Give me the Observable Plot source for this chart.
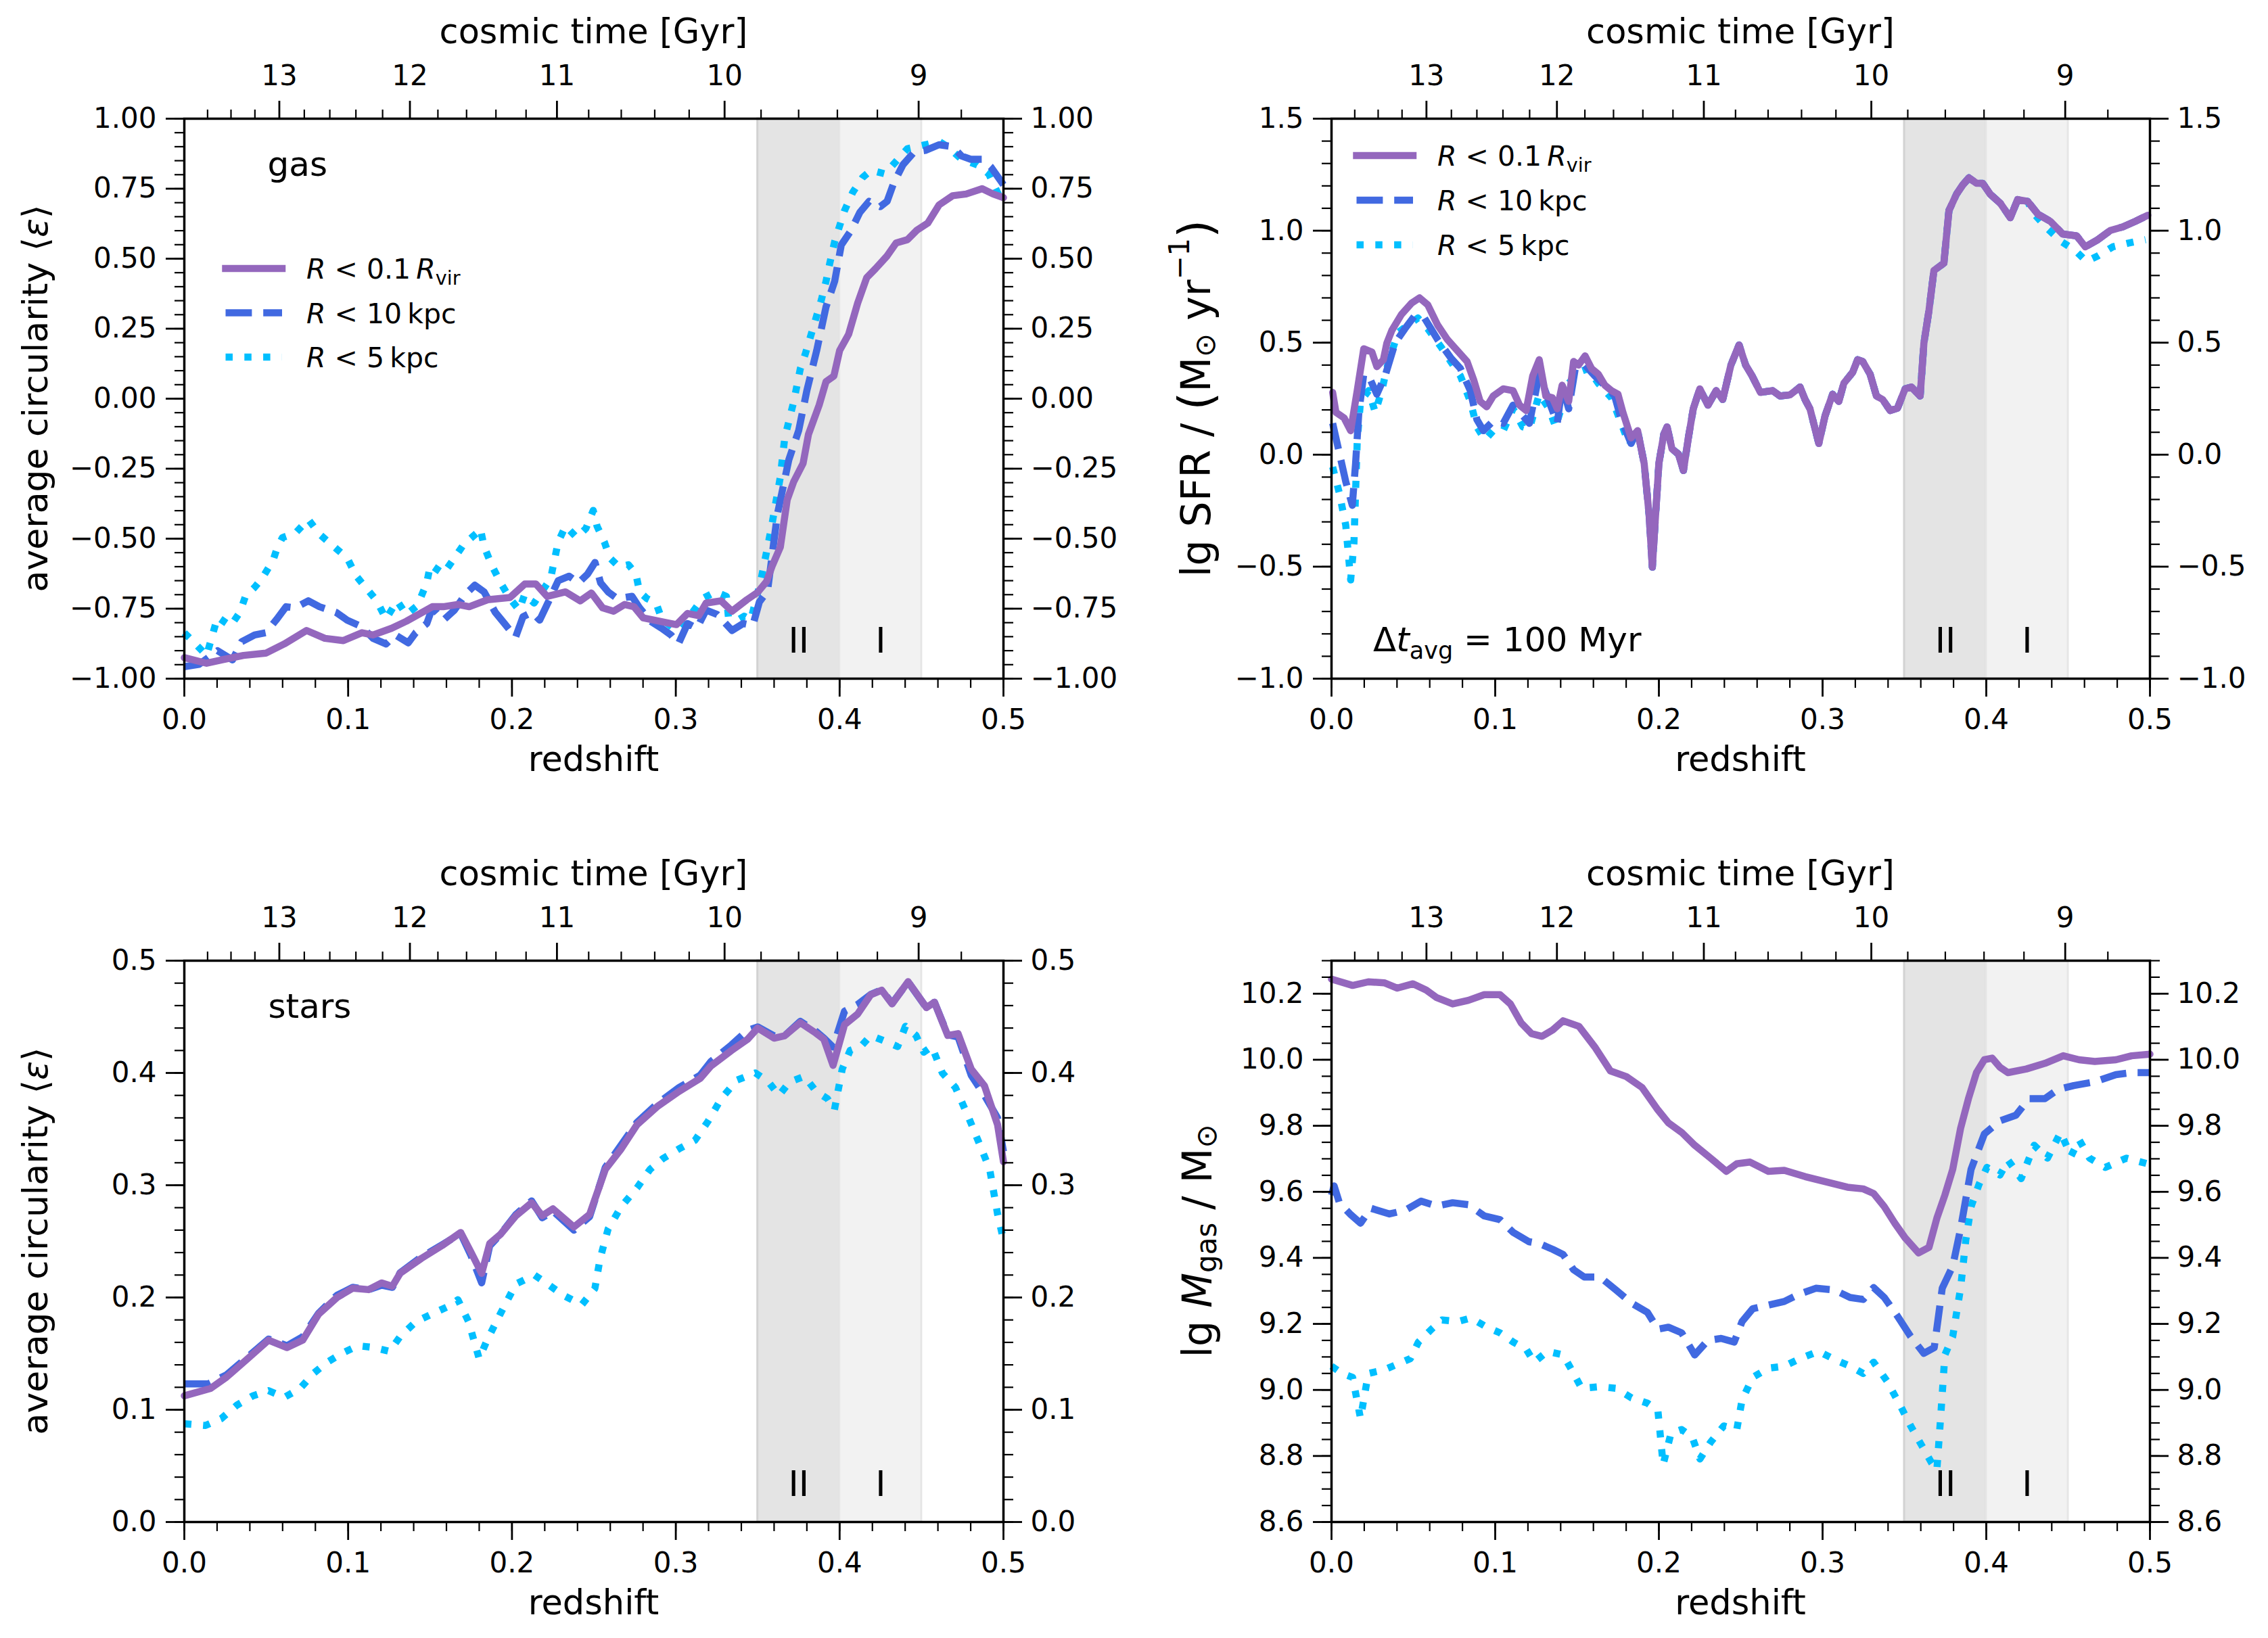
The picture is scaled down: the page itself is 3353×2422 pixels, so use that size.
<!DOCTYPE html>
<html><head><meta charset="utf-8">
<script src="https://cdn.jsdelivr.net/npm/d3@7"></script>
<script src="https://cdn.jsdelivr.net/npm/@observablehq/plot@0.6"></script>
<style>
html,body{margin:0;padding:0;background:#fff;}
#fig{position:relative;width:3353px;height:2422px;background:#fff;font-family:"DejaVu Sans";overflow:hidden;}
#fig > svg{position:absolute;}
</style></head><body><div id="fig"></div>
<script>
// ---------------- DATA (redshift, value) ----------------
const gasVir = [[0,-0.925],[0.0136,-0.945],[0.0226,-0.933],[0.0361,-0.917],[0.0497,-0.909],[0.061,-0.876],[0.0746,-0.828],[0.0858,-0.856],[0.0971,-0.864],[0.1084,-0.836],[0.1152,-0.844],[0.1265,-0.82],[0.1355,-0.795],[0.1514,-0.743],[0.1581,-0.743],[0.1672,-0.735],[0.1739,-0.743],[0.1852,-0.718],[0.1988,-0.71],[0.2078,-0.662],[0.2146,-0.662],[0.2214,-0.706],[0.2327,-0.69],[0.2417,-0.722],[0.2485,-0.694],[0.2553,-0.747],[0.262,-0.759],[0.2688,-0.735],[0.2745,-0.743],[0.2801,-0.783],[0.2937,-0.799],[0.3004,-0.807],[0.3072,-0.767],[0.314,-0.775],[0.3185,-0.73],[0.3276,-0.722],[0.3343,-0.759],[0.3434,-0.718],[0.3499,-0.692],[0.3554,-0.653],[0.359,-0.595],[0.3638,-0.53],[0.368,-0.361],[0.372,-0.296],[0.3777,-0.231],[0.381,-0.127],[0.3875,-0.023],[0.3917,0.061],[0.3965,0.081],[0.40,0.172],[0.4055,0.23],[0.411,0.341],[0.4165,0.432],[0.422,0.465],[0.429,0.51],[0.4345,0.556],[0.4414,0.568],[0.447,0.601],[0.4538,0.627],[0.4607,0.692],[0.469,0.725],[0.4772,0.731],[0.487,0.75],[0.4937,0.731],[0.5,0.718]];
const gas10 = [[0,-0.957],[0.009,-0.949],[0.0203,-0.9],[0.0294,-0.933],[0.035,-0.868],[0.0429,-0.844],[0.0497,-0.836],[0.0565,-0.787],[0.0621,-0.743],[0.0678,-0.747],[0.0757,-0.722],[0.0825,-0.743],[0.0926,-0.763],[0.0994,-0.791],[0.1084,-0.815],[0.1152,-0.856],[0.1231,-0.876],[0.1288,-0.844],[0.1367,-0.872],[0.1412,-0.836],[0.148,-0.803],[0.1514,-0.747],[0.1581,-0.791],[0.1649,-0.755],[0.1717,-0.698],[0.1773,-0.666],[0.183,-0.69],[0.1898,-0.763],[0.1954,-0.803],[0.2022,-0.852],[0.2067,-0.779],[0.2123,-0.763],[0.2169,-0.791],[0.2225,-0.722],[0.2282,-0.65],[0.2349,-0.634],[0.2406,-0.658],[0.2462,-0.626],[0.2507,-0.585],[0.2541,-0.658],[0.2587,-0.69],[0.2643,-0.714],[0.2733,-0.706],[0.2779,-0.747],[0.2846,-0.795],[0.2914,-0.82],[0.2971,-0.844],[0.3016,-0.876],[0.3072,-0.803],[0.3129,-0.82],[0.3185,-0.755],[0.3253,-0.771],[0.3343,-0.828],[0.3411,-0.803],[0.347,-0.81],[0.351,-0.726],[0.356,-0.687],[0.362,-0.413],[0.369,-0.218],[0.375,-0.114],[0.38,0.029],[0.386,0.172],[0.3917,0.328],[0.397,0.42],[0.401,0.549],[0.407,0.601],[0.4124,0.666],[0.418,0.705],[0.4248,0.686],[0.429,0.705],[0.433,0.77],[0.4386,0.835],[0.4455,0.881],[0.4524,0.887],[0.4607,0.907],[0.469,0.9],[0.4744,0.867],[0.48,0.855],[0.487,0.855],[0.4923,0.828],[0.5,0.764]];
const gas5 = [[0,-0.836],[0.0068,-0.876],[0.0136,-0.917],[0.0203,-0.78],[0.0282,-0.812],[0.0339,-0.763],[0.0373,-0.706],[0.0429,-0.674],[0.0474,-0.642],[0.0542,-0.577],[0.0565,-0.536],[0.0599,-0.496],[0.0678,-0.48],[0.0757,-0.431],[0.0825,-0.484],[0.0904,-0.524],[0.0994,-0.569],[0.105,-0.634],[0.1107,-0.674],[0.1175,-0.722],[0.1231,-0.787],[0.1299,-0.722],[0.1355,-0.771],[0.1423,-0.739],[0.148,-0.658],[0.1502,-0.593],[0.1581,-0.625],[0.1649,-0.569],[0.1706,-0.52],[0.1785,-0.48],[0.1807,-0.464],[0.183,-0.528],[0.1875,-0.593],[0.1931,-0.658],[0.1988,-0.714],[0.2044,-0.755],[0.2078,-0.698],[0.2135,-0.73],[0.2236,-0.642],[0.2259,-0.577],[0.2282,-0.512],[0.2327,-0.455],[0.2395,-0.496],[0.2451,-0.464],[0.2496,-0.399],[0.2519,-0.455],[0.2564,-0.512],[0.2598,-0.569],[0.2654,-0.601],[0.2711,-0.593],[0.2756,-0.625],[0.2779,-0.69],[0.2824,-0.714],[0.288,-0.73],[0.2914,-0.787],[0.3004,-0.828],[0.3072,-0.787],[0.3163,-0.714],[0.3242,-0.69],[0.3309,-0.706],[0.3321,-0.779],[0.3389,-0.787],[0.3417,-0.777],[0.3458,-0.79],[0.352,-0.647],[0.3582,-0.465],[0.3637,-0.283],[0.3665,-0.14],[0.372,-0.01],[0.376,0.107],[0.379,0.159],[0.383,0.237],[0.3889,0.354],[0.3917,0.419],[0.394,0.484],[0.397,0.562],[0.403,0.672],[0.408,0.737],[0.414,0.79],[0.4193,0.816],[0.4276,0.803],[0.4345,0.848],[0.4414,0.893],[0.4524,0.907],[0.4607,0.919],[0.466,0.9],[0.4744,0.855],[0.484,0.835],[0.491,0.803],[0.5,0.692]];

const sfrVir = [[0.0007,0.278],[0.0027,0.189],[0.0077,0.164],[0.0117,0.107],[0.0157,0.286],[0.0197,0.473],[0.0247,0.458],[0.0277,0.393],[0.0317,0.424],[0.0338,0.498],[0.0368,0.554],[0.0428,0.627],[0.0488,0.676],[0.0538,0.70],[0.0588,0.669],[0.0648,0.579],[0.0708,0.514],[0.0768,0.465],[0.0828,0.416],[0.0868,0.335],[0.0908,0.238],[0.0948,0.214],[0.0988,0.262],[0.1049,0.294],[0.1109,0.286],[0.1149,0.221],[0.1189,0.197],[0.1229,0.351],[0.1269,0.424],[0.1309,0.262],[0.1349,0.254],[0.1379,0.205],[0.1409,0.31],[0.1449,0.238],[0.1479,0.416],[0.1509,0.40],[0.1549,0.441],[0.1589,0.384],[0.1629,0.36],[0.167,0.31],[0.171,0.286],[0.175,0.27],[0.178,0.189],[0.183,0.075],[0.187,0.107],[0.191,-0.039],[0.194,-0.266],[0.196,-0.502],[0.198,-0.266],[0.200,-0.039],[0.203,0.091],[0.205,0.124],[0.208,0.026],[0.212,0.002],[0.215,-0.071],[0.218,0.075],[0.221,0.205],[0.225,0.294],[0.230,0.221],[0.235,0.286],[0.239,0.246],[0.244,0.40],[0.249,0.49],[0.253,0.40],[0.257,0.351],[0.262,0.278],[0.2694,0.286],[0.274,0.262],[0.2801,0.267],[0.2862,0.302],[0.2893,0.246],[0.2923,0.205],[0.2977,0.05],[0.3015,0.173],[0.3061,0.27],[0.3099,0.238],[0.313,0.319],[0.3184,0.368],[0.3214,0.424],[0.3245,0.416],[0.329,0.36],[0.3329,0.262],[0.3367,0.246],[0.3413,0.197],[0.3458,0.208],[0.3504,0.294],[0.3543,0.302],[0.3596,0.262],[0.3619,0.498],[0.365,0.644],[0.368,0.822],[0.3741,0.855],[0.3772,1.09],[0.3818,1.163],[0.3856,1.204],[0.3894,1.236],[0.394,1.212],[0.3978,1.212],[0.4024,1.163],[0.4085,1.123],[0.4147,1.058],[0.4192,1.139],[0.4253,1.131],[0.4315,1.074],[0.4391,1.042],[0.4467,0.985],[0.4552,0.977],[0.4605,0.928],[0.4682,0.96],[0.4758,1.001],[0.4834,1.017],[0.4911,1.042],[0.4987,1.069]];
const sfr10Early = [[0.0007,0.14],[0.0047,0.01],[0.0087,-0.12],[0.0127,-0.226],[0.0147,-0.04],[0.0167,0.189],[0.0197,0.36],[0.0237,0.335],[0.0277,0.27],[0.0327,0.351],[0.0388,0.498],[0.0448,0.562],[0.0508,0.62],[0.0568,0.61],[0.0648,0.514],[0.0728,0.433],[0.0788,0.384],[0.0848,0.286],[0.0888,0.157],[0.0928,0.107],[0.0988,0.15],[0.1049,0.14],[0.1109,0.221],[0.1169,0.173],[0.1209,0.14],[0.1269,0.36],[0.1329,0.238],[0.1379,0.14],[0.1409,0.31],[0.1449,0.205],[0.1489,0.384],[0.1549,0.40],[0.1609,0.351],[0.169,0.294],[0.173,0.262],[0.177,0.157],[0.183,0.05]];
const sfr5Early = [[0.0007,-0.055],[0.0047,-0.169],[0.0087,-0.315],[0.0117,-0.559],[0.0137,-0.396],[0.0157,0.058],[0.0177,0.238],[0.0227,0.286],[0.0267,0.189],[0.0307,0.286],[0.0348,0.416],[0.0408,0.546],[0.0468,0.579],[0.0528,0.61],[0.0588,0.562],[0.0668,0.482],[0.0728,0.416],[0.0788,0.351],[0.0848,0.238],[0.0888,0.124],[0.0938,0.066],[0.0988,0.107],[0.1049,0.107],[0.1109,0.205],[0.1169,0.124],[0.1209,0.115],[0.1269,0.27],[0.1329,0.205],[0.1369,0.124],[0.1409,0.221],[0.1449,0.319],[0.1509,0.368],[0.1569,0.384],[0.1629,0.319],[0.171,0.254],[0.177,0.14],[0.182,0.043]];
const sfr5Late = [[0.4283,1.082],[0.4374,1.009],[0.4458,0.952],[0.4543,0.912],[0.4612,0.863],[0.4681,0.887],[0.4773,0.928],[0.4865,0.944],[0.4973,0.96]];
// where the R<10 kpc and R<5 kpc curves lie on top of the R<0.1Rvir curve
const sfr10 = sfr10Early.concat(sfrVir.filter(d => d[0] >= 0.185));
const sfr5 = sfr5Early.concat(sfrVir.filter(d => d[0] >= 0.185 && d[0] <= 0.4253), sfr5Late);

const starVir = [[0,0.1124],[0.016,0.119],[0.0257,0.129],[0.0386,0.1454],[0.0514,0.162],[0.0627,0.1554],[0.0723,0.162],[0.082,0.1852],[0.0932,0.20],[0.1028,0.2083],[0.1125,0.207],[0.1205,0.213],[0.127,0.21],[0.1317,0.2215],[0.1446,0.2347],[0.1574,0.2463],[0.1687,0.2579],[0.1751,0.24],[0.1815,0.2215],[0.1864,0.248],[0.1928,0.256],[0.2024,0.2728],[0.212,0.2844],[0.2185,0.2728],[0.225,0.279],[0.2378,0.2628],[0.2474,0.274],[0.257,0.3142],[0.2667,0.3324],[0.2763,0.3539],[0.289,0.3704],[0.302,0.3836],[0.3149,0.3952],[0.3213,0.406],[0.334,0.42],[0.3438,0.43],[0.35,0.44],[0.36,0.431],[0.3663,0.433],[0.376,0.4448],[0.3856,0.4354],[0.3904,0.43],[0.396,0.4068],[0.403,0.443],[0.411,0.4525],[0.419,0.4697],[0.4257,0.4737],[0.432,0.4615],[0.4418,0.4813],[0.453,0.4582],[0.4579,0.463],[0.466,0.4334],[0.4723,0.435],[0.4803,0.4035],[0.4884,0.3886],[0.4964,0.3539],[0.5,0.321]];
const star10 = [[0,0.123],[0.0145,0.123],[0.0257,0.131],[0.0386,0.147],[0.0514,0.163],[0.0627,0.157],[0.0723,0.165],[0.082,0.186],[0.0932,0.202],[0.1028,0.209],[0.1125,0.207],[0.1205,0.211],[0.127,0.209],[0.1317,0.222],[0.1446,0.236],[0.1574,0.247],[0.1687,0.257],[0.1751,0.237],[0.1815,0.213],[0.1864,0.246],[0.1928,0.256],[0.2024,0.274],[0.212,0.286],[0.2185,0.271],[0.225,0.277],[0.2378,0.26],[0.2474,0.272],[0.257,0.316],[0.2667,0.336],[0.2763,0.356],[0.289,0.373],[0.302,0.387],[0.3149,0.398],[0.3213,0.41],[0.334,0.425],[0.3438,0.438],[0.35,0.441],[0.36,0.433],[0.3663,0.433],[0.376,0.446],[0.3856,0.437],[0.3904,0.431],[0.396,0.423],[0.403,0.455],[0.411,0.461],[0.419,0.47],[0.4257,0.474],[0.432,0.462],[0.4418,0.481],[0.453,0.458],[0.4579,0.463],[0.466,0.434],[0.4723,0.432],[0.4803,0.398],[0.4884,0.38],[0.4964,0.36],[0.5,0.33]];
const star5 = [[0,0.0875],[0.0129,0.086],[0.0225,0.092],[0.032,0.104],[0.0418,0.1124],[0.0514,0.117],[0.061,0.111],[0.0707,0.119],[0.0787,0.1322],[0.0868,0.142],[0.0964,0.1504],[0.106,0.157],[0.1157,0.1554],[0.1253,0.152],[0.1317,0.1652],[0.1414,0.1785],[0.151,0.1852],[0.1607,0.1918],[0.167,0.198],[0.1735,0.1785],[0.18,0.1454],[0.1848,0.162],[0.1928,0.1852],[0.2024,0.212],[0.2137,0.22],[0.2217,0.212],[0.2313,0.202],[0.2426,0.1935],[0.2506,0.208],[0.2538,0.2347],[0.2587,0.261],[0.2667,0.281],[0.2763,0.2976],[0.2843,0.3142],[0.2924,0.324],[0.302,0.3324],[0.3117,0.34],[0.3197,0.357],[0.3277,0.377],[0.3373,0.3936],[0.3486,0.40],[0.3566,0.392],[0.363,0.38],[0.3695,0.392],[0.3785,0.397],[0.3856,0.3836],[0.3926,0.377],[0.3968,0.367],[0.4016,0.4035],[0.4064,0.42],[0.4129,0.4235],[0.419,0.4334],[0.4273,0.4285],[0.4354,0.4235],[0.4402,0.4416],[0.4466,0.4334],[0.4514,0.4185],[0.4563,0.4235],[0.4627,0.40],[0.4707,0.387],[0.4787,0.3605],[0.4852,0.3373],[0.4916,0.3142],[0.4964,0.2744],[0.5,0.2513]];

const mgasVir = [[0,10.244],[0.0129,10.225],[0.0225,10.236],[0.0322,10.233],[0.0402,10.217],[0.0498,10.23],[0.0579,10.211],[0.0643,10.188],[0.074,10.169],[0.0836,10.18],[0.0933,10.197],[0.1029,10.197],[0.1093,10.169],[0.1158,10.112],[0.1222,10.079],[0.1286,10.071],[0.1351,10.09],[0.1415,10.118],[0.1512,10.101],[0.1608,10.039],[0.1704,9.966],[0.1801,9.949],[0.1897,9.916],[0.1994,9.848],[0.2058,9.809],[0.2139,9.78],[0.2219,9.741],[0.2316,9.702],[0.2412,9.662],[0.2476,9.685],[0.2557,9.69],[0.2669,9.662],[0.2766,9.665],[0.2894,9.646],[0.3023,9.63],[0.3152,9.614],[0.3248,9.609],[0.3312,9.595],[0.3377,9.555],[0.3441,9.505],[0.3505,9.46],[0.3586,9.415],[0.365,9.432],[0.3698,9.52],[0.3747,9.59],[0.3795,9.668],[0.3843,9.792],[0.3891,9.882],[0.394,9.961],[0.3988,10.0],[0.4036,10.005],[0.4084,9.977],[0.4133,9.961],[0.4245,9.972],[0.4358,9.989],[0.447,10.012],[0.4567,10.0],[0.4663,9.995],[0.4792,10.0],[0.4888,10.012],[0.5,10.017]];
const mgas10 = [[0,9.59],[0.0016,9.618],[0.0048,9.567],[0.0113,9.533],[0.0177,9.505],[0.0241,9.55],[0.0354,9.533],[0.045,9.544],[0.0547,9.572],[0.0643,9.557],[0.074,9.567],[0.0836,9.561],[0.0933,9.527],[0.1029,9.516],[0.111,9.477],[0.1206,9.449],[0.127,9.443],[0.1351,9.426],[0.1415,9.41],[0.1479,9.364],[0.1544,9.342],[0.164,9.342],[0.1737,9.303],[0.1833,9.263],[0.193,9.235],[0.1994,9.184],[0.2058,9.19],[0.2139,9.173],[0.2219,9.106],[0.2299,9.15],[0.238,9.156],[0.246,9.145],[0.2508,9.207],[0.2573,9.246],[0.2669,9.257],[0.2766,9.268],[0.2862,9.291],[0.2959,9.308],[0.3071,9.303],[0.3168,9.28],[0.3248,9.274],[0.3312,9.31],[0.3377,9.28],[0.3457,9.224],[0.3538,9.162],[0.3618,9.111],[0.3682,9.128],[0.3731,9.308],[0.3795,9.375],[0.3843,9.488],[0.3875,9.578],[0.3907,9.668],[0.3988,9.775],[0.4084,9.815],[0.4181,9.832],[0.4261,9.882],[0.4358,9.882],[0.4438,9.91],[0.4535,9.922],[0.4663,9.933],[0.4792,9.955],[0.4888,9.961],[0.5,9.961]];
const mgas5 = [[0,9.072],[0.0064,9.05],[0.0129,9.038],[0.0177,8.914],[0.0225,9.05],[0.0322,9.061],[0.0402,9.078],[0.0482,9.095],[0.0531,9.145],[0.0611,9.184],[0.0675,9.212],[0.0772,9.207],[0.0852,9.218],[0.0949,9.19],[0.1029,9.173],[0.111,9.145],[0.119,9.123],[0.1238,9.084],[0.1319,9.117],[0.1415,9.106],[0.1479,9.05],[0.1528,9.005],[0.164,9.01],[0.1737,9.005],[0.1833,8.976],[0.193,8.96],[0.1994,8.937],[0.2026,8.774],[0.2074,8.869],[0.2139,8.88],[0.2203,8.858],[0.2251,8.791],[0.2315,8.841],[0.2396,8.891],[0.2476,8.88],[0.2508,8.97],[0.2573,9.038],[0.2669,9.066],[0.2766,9.072],[0.2862,9.095],[0.2975,9.117],[0.3087,9.089],[0.3168,9.072],[0.3248,9.05],[0.3312,9.084],[0.3393,9.027],[0.3473,8.954],[0.3538,8.891],[0.3602,8.835],[0.3666,8.779],[0.3698,8.757],[0.3724,8.937],[0.3747,9.106],[0.3795,9.162],[0.3843,9.308],[0.3875,9.454],[0.3907,9.555],[0.3956,9.623],[0.4004,9.674],[0.4084,9.651],[0.4133,9.696],[0.4213,9.64],[0.4293,9.741],[0.4374,9.702],[0.4454,9.78],[0.4518,9.708],[0.4567,9.758],[0.4631,9.702],[0.4727,9.674],[0.4856,9.702],[0.4985,9.685]];

// shaded phases and their labels
const bandDark = [{z1: 0.35, z2: 0.40}];
const bandLight = [{z1: 0.40, z2: 0.45}];
const phaseLabels = [{z: 0.375, label: "II"}, {z: 0.425, label: "I"}];

// axes ticks
const redshiftMajor = [0, 0.1, 0.2, 0.3, 0.4, 0.5];
const cosmicMajor = [13, 12, 11, 10, 9];
const cosmicMinor = [13.6, 13.4, 13.2, 12.8, 12.6, 12.4, 12.2, 11.8, 11.6, 11.4, 11.2, 10.8, 10.6, 10.4, 10.2, 9.8, 9.6, 9.4, 9.2, 8.8, 8.6];
const circGasTicks = [-1, -0.75, -0.5, -0.25, 0, 0.25, 0.5, 0.75, 1];
const sfrTicks = [-1, -0.5, 0, 0.5, 1, 1.5];
const circStarTicks = [0, 0.1, 0.2, 0.3, 0.4, 0.5];
const mgasTicks = [8.6, 8.8, 9.0, 9.2, 9.4, 9.6, 9.8, 10.0, 10.2];

// colours
const cVir = "#9467bd", c10 = "#4169e1", c5 = "#00bfff";

// ---------------- cosmology for top axis (flat LCDM, Planck 2015) ----------------
const H0 = 67.74, Om = 0.3089, OL = 1 - Om;
const tPref = 2 / (3 * Math.sqrt(OL)) * 977.8 / H0;
const zOfT = t => Math.pow(Math.sinh(t / tPref) / Math.sqrt(OL / Om), -2 / 3) - 1;
const topMajor = cosmicMajor.map(zOfT);
const topMinor = cosmicMinor.map(zOfT).filter(z => z >= 0 && z <= 0.5);
const topLabel = new Map(cosmicMajor.map(t => [zOfT(t), String(t)]));

const fig = document.getElementById("fig");
const FONT = "DejaVu Sans";
const LW = 10.5;
const DASH = "38.9,16.8", DOT = "10.5,17.3";

function panel({left, top, mL, mR, mT, mB, fw, fh, series, yDomain, yMajor, yMinor, yFmt, extra = []}) {
  const lines = [
    Plot.line(series[2], {x: d => d[0], y: d => d[1], stroke: c5, strokeWidth: LW, strokeDasharray: DOT, strokeLinecap: "butt", strokeLinejoin: "round"}),
    Plot.line(series[1], {x: d => d[0], y: d => d[1], stroke: c10, strokeWidth: LW, strokeDasharray: DASH, strokeLinecap: "butt", strokeLinejoin: "round"}),
    Plot.line(series[0], {x: d => d[0], y: d => d[1], stroke: cVir, strokeWidth: LW, strokeLinejoin: "round"})
  ];
  const common = {fontSize: 42, label: null};
  const svg = Plot.plot({
    width: mL + fw + mR, height: mT + fh + mB,
    marginLeft: mL, marginRight: mR, marginTop: mT, marginBottom: mB,
    style: {fontFamily: FONT, fontSize: "42px", background: "transparent", overflow: "visible", color: "black", maxWidth: "none"},
    x: {domain: [0, 0.5], label: null},
    y: {domain: yDomain, label: null},
    marks: [
      Plot.rect(bandDark, {x1: "z1", x2: "z2", y1: yDomain[0], y2: yDomain[1], fill: "#e4e4e4", stroke: "#d2d2d2", strokeWidth: 3}),
      Plot.rect(bandLight, {x1: "z1", x2: "z2", y1: yDomain[0], y2: yDomain[1], fill: "#f2f2f2", stroke: "#e6e6e6", strokeWidth: 3}),
      ...lines,
      Plot.text(phaseLabels, {x: "z", text: "label", frameAnchor: "bottom", dy: -39, lineAnchor: "bottom", fontSize: 52, fill: "black"}),
      ...extra,
      // bottom redshift axis
      Plot.axisX({...common, anchor: "bottom", ticks: redshiftMajor, tickFormat: d3.format(".1f"), tickSize: 27, tickPadding: 18, strokeWidth: 2.8}),
      Plot.axisX({...common, anchor: "bottom", ticks: d3.range(0, 0.5001, 0.02), tickFormat: () => "", tickSize: 14, strokeWidth: 2.2}),
      // top cosmic time axis
      Plot.axisX({...common, anchor: "top", ticks: topMajor, tickFormat: d => topLabel.get(d), tickSize: 27, tickPadding: 23, strokeWidth: 2.8}),
      Plot.axisX({...common, anchor: "top", ticks: topMinor, tickFormat: () => "", tickSize: 14, strokeWidth: 2.2}),
      // left and right y axes
      Plot.axisY({...common, anchor: "left", ticks: yMajor, tickFormat: yFmt, tickSize: 27, tickPadding: 14, strokeWidth: 2.8}),
      Plot.axisY({...common, anchor: "left", ticks: yMinor, tickFormat: () => "", tickSize: 14, strokeWidth: 2.2}),
      Plot.axisY({...common, anchor: "right", ticks: yMajor, tickFormat: yFmt, tickSize: 27, tickPadding: 13, strokeWidth: 2.8}),
      Plot.axisY({...common, anchor: "right", ticks: yMinor, tickFormat: () => "", tickSize: 14, strokeWidth: 2.2}),
      Plot.frame({stroke: "black", strokeWidth: 3.5})
    ]
  });
  svg.style.left = left + "px";
  svg.style.top = top + "px";
  fig.appendChild(svg);
}

const TOP = {top: 0, mT: 175, fh: 828, mB: 180};
const BOT = {top: 1240, mT: 180, fh: 830, mB: 172};
const LEFT = {left: 0, mL: 272, fw: 1211, mR: 230};
const RIGHT = {left: 1700, mL: 268, fw: 1210, mR: 175};

panel({...LEFT, ...TOP, series: [gasVir, gas10, gas5], yDomain: [-1, 1], yMajor: circGasTicks,
  yMinor: d3.range(-1, 1.0001, 0.05), yFmt: d3.format(".2f"),
  extra: [Plot.text(["gas"], {text: d => d, frameAnchor: "top-left", dx: 123, dy: 84, textAnchor: "start", lineAnchor: "bottom", fontSize: 50, fill: "black"})]});
panel({...RIGHT, ...TOP, series: [sfrVir, sfr10, sfr5], yDomain: [-1, 1.5], yMajor: sfrTicks,
  yMinor: d3.range(-1, 1.5001, 0.1), yFmt: d3.format(".1f")});
panel({...LEFT, ...BOT, series: [starVir, star10, star5], yDomain: [0, 0.5], yMajor: circStarTicks,
  yMinor: d3.range(0, 0.5001, 0.02), yFmt: d3.format(".1f"),
  extra: [Plot.text(["stars"], {text: d => d, frameAnchor: "top-left", dx: 124, dy: 84, textAnchor: "start", lineAnchor: "bottom", fontSize: 50, fill: "black"})]});
panel({...RIGHT, ...BOT, series: [mgasVir, mgas10, mgas5], yDomain: [8.6, 10.3], yMajor: mgasTicks,
  yMinor: d3.range(8.6, 10.3001, 0.05), yFmt: d3.format(".1f")});

// ---------------- overlay: axis titles, math labels, legends ----------------
const ov = d3.select(fig).append("svg").attr("width", 3353).attr("height", 2422)
  .style("left", "0px").style("top", "0px").style("pointer-events", "none");

function mtext(x, y, fs, parts, {anchor = "start", rotate = 0, baseline = null} = {}) {
  const t = ov.append("text").attr("transform", `translate(${x},${y}) rotate(${rotate})`)
    .attr("font-size", fs).attr("font-family", FONT).attr("text-anchor", anchor)
    .attr("fill", "black").style("white-space", "pre");
  if (baseline) t.attr("dominant-baseline", baseline);
  let cur = 0;
  for (const p0 of parts) {
    const p = typeof p0 === "string" ? {t: p0} : p0;
    const off = p.sub ? 0.22 * fs : p.sup ? -0.42 * fs : 0;
    const ts = t.append("tspan").text(p.t).attr("dy", off - cur);
    cur = off;
    if (p.it) ts.attr("font-style", "italic");
    if (p.sub || p.sup) ts.attr("font-size", fs * 0.7);
    if (p.s) ts.attr("font-size", fs * p.s);
  }
}

const colCenters = [272 + 1211 / 2, 1968 + 1210 / 2];
for (const cx of colCenters) {
  mtext(cx, 64, 51, ["cosmic time [Gyr]"], {anchor: "middle"});
  mtext(cx, 1309, 51, ["cosmic time [Gyr]"], {anchor: "middle"});
  mtext(cx, 1140, 51, ["redshift"], {anchor: "middle"});
  mtext(cx, 2387, 51, ["redshift"], {anchor: "middle"});
}
const circLabel = ["average circularity ", "\u27e8", {t: "\u03b5", it: true}, "\u27e9"];
mtext(52, 589, 52, circLabel, {anchor: "middle", rotate: -90, baseline: "central"});
mtext(52, 1835, 52, circLabel, {anchor: "middle", rotate: -90, baseline: "central"});
mtext(1768, 589, 60, ["lg SFR / ", {t: "(", s: 1.15}, "M", {t: "\u2299", sub: true}, " yr", {t: "\u22121", sup: true}, {t: ")", s: 1.15}],
  {anchor: "middle", rotate: -90, baseline: "central"});
mtext(1770, 1835, 60, ["lg ", {t: "M", it: true}, {t: "gas", sub: true}, " / M", {t: "\u2299", sub: true}],
  {anchor: "middle", rotate: -90, baseline: "central"});
mtext(2030, 963, 50, ["\u0394", {t: "t", it: true}, {t: "avg", sub: true}, " = 100 Myr"]);

const legendItems = [
  {stroke: cVir, dash: null, parts: [{t: "R", it: true}, " < 0.1\u2009", {t: "R", it: true}, {t: "vir", sub: true}]},
  {stroke: c10, dash: DASH, parts: [{t: "R", it: true}, " < 10\u2009kpc"]},
  {stroke: c5, dash: DOT, parts: [{t: "R", it: true}, " < 5\u2009kpc"]}
];
function legend(x0, y0, dyRow) {
  legendItems.forEach((it, i) => {
    const y = y0 + i * dyRow;
    const l = ov.append("line").attr("x1", x0 + 5.5).attr("x2", x0 + 89).attr("y1", y).attr("y2", y)
      .attr("stroke", it.stroke).attr("stroke-width", LW);
    if (it.dash) l.attr("stroke-dasharray", it.dash).attr("stroke-linecap", "butt");
    else l.attr("stroke-linecap", "square");
    mtext(x0 + 125, y + 15, 41, it.parts);
  });
}
legend(328, 397, 65.5);
legend(2000, 230, 66);
</script></body></html>
